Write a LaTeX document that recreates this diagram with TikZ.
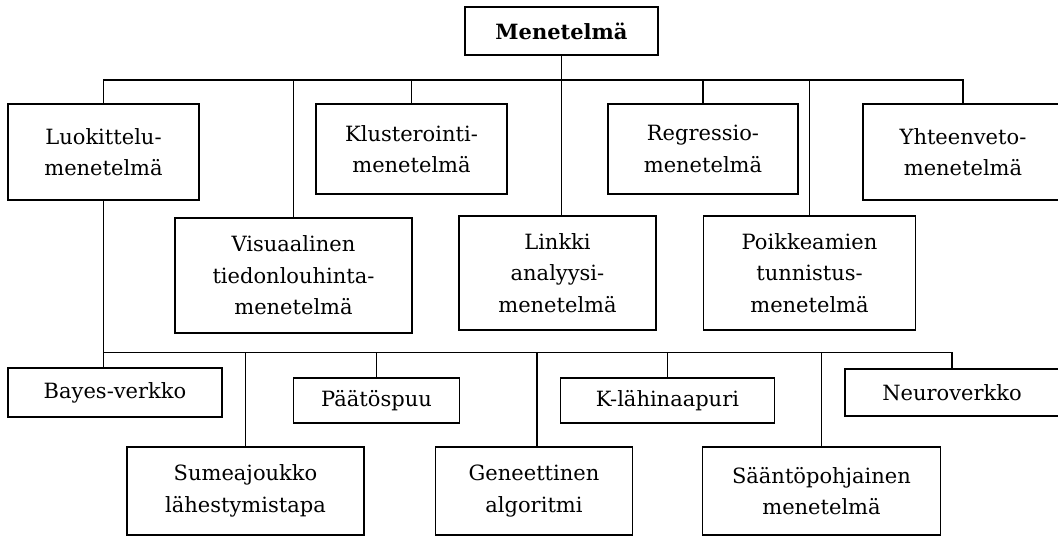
\documentclass[tikz,border=0pt]{standalone}
\usepackage{fontspec}
\setmainfont{DejaVu Serif}
\begin{document}
\begin{tikzpicture}[x=1pt,y=-1pt,
  box/.style={draw,line width=1.5pt,align=center,inner sep=0pt,
    font=\fontsize{21}{31.5}\selectfont},
  link/.style={line width=1.5pt}]
\useasboundingbox (0,0) rectangle (1058,536);
\clip (0,0) rectangle (1058,536);

% root
\node[box,minimum width=193,minimum height=48,font=\fontsize{21}{31.5}\selectfont\bfseries]
  (root) at (561.5,31) {Menetelmä};

% first level, upper row
\node[box,minimum width=191,minimum height=96] (luok) at (103.5,152) {Luokittelu-\\menetelmä};
\node[box,minimum width=191,minimum height=90] (klus) at (411.5,149) {Klusterointi-\\menetelmä};
\node[box,minimum width=190,minimum height=90] (regr) at (703,149) {Regressio-\\menetelmä};
\node[box,minimum width=200,minimum height=96] (yht) at (963,152) {Yhteenveto-\\menetelmä};

% first level, lower row
\node[box,minimum width=237,minimum height=115] (vis) at (293.5,275.5) {Visuaalinen\\tiedonlouhinta-\\menetelmä};
\node[box,minimum width=197,minimum height=114] (link) at (557.5,273) {Linkki\\analyysi-\\menetelmä};
\node[box,minimum width=212,minimum height=114] (poik) at (809.5,273) {Poikkeamien\\tunnistus-\\menetelmä};

% classification methods, upper row
\node[box,minimum width=214,minimum height=49] (bayes) at (115,392.5) {Bayes-verkko};
\node[box,minimum width=166,minimum height=45] (paat) at (376.5,400.5) {Päätöspuu};
\node[box,minimum width=214,minimum height=45] (klahi) at (667.5,400.5) {K-lähinaapuri};
\node[box,minimum width=214,minimum height=47] (neuro) at (952,392.5) {Neuroverkko};

% classification methods, lower row
\node[box,minimum width=237,minimum height=88] (sume) at (245.5,491) {Sumeajoukko\\lähestymistapa};
\node[box,minimum width=197,minimum height=88] (gene) at (534,491) {Geneettinen\\algoritmi};
\node[box,minimum width=238,minimum height=88] (saan) at (821.5,491) {Sääntöpohjainen\\menetelmä};

% buses
\coordinate (bus1) at (0,80);
\coordinate (bus2) at (0,352.5);

% top-level tree
\draw[link] (root.south) -- (root.south |- link.north);
\draw[link] (luok.north) -- (luok.north |- bus1) -| (yht.north);
\draw[link] (vis.north) -- (vis.north |- bus1);
\draw[link] (klus.north) -- (klus.north |- bus1);
\draw[link] (regr.north) -- (regr.north |- bus1);
\draw[link] (poik.north) -- (poik.north |- bus1);

% classification subtree
\draw[link] (luok.south) -- (luok.south |- bayes.north);
\draw[link] (luok.south |- bus2) -| (neuro.north);
\draw[link] (sume.north) -- (sume.north |- bus2);
\draw[link] (paat.north) -- (paat.north |- bus2);
\draw[link] ([xshift=3pt]gene.north) -- ([xshift=3pt]gene.north |- bus2);
\draw[link] (klahi.north) -- (klahi.north |- bus2);
\draw[link] (saan.north) -- (saan.north |- bus2);
\end{tikzpicture}
\end{document}
